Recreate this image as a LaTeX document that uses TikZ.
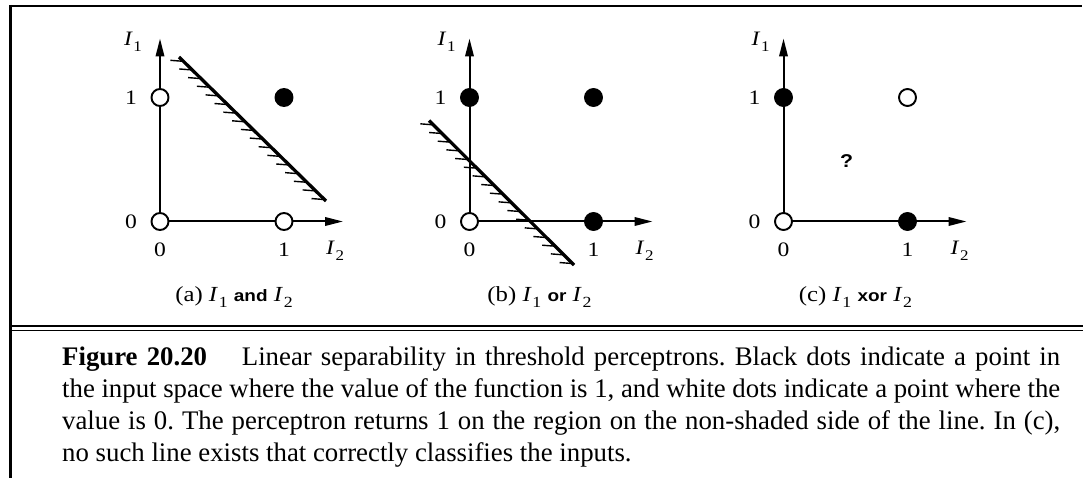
\documentclass[tikz,border=0pt]{standalone}
\usepackage{fontspec}
\setmainfont{Liberation Serif}
\newfontfamily\hsans{Liberation Sans}
\usepackage{graphicx}
\usetikzlibrary{arrows.meta,calc}
\newcommand\Iv[1]{\textit{I}\kern0.03em\raisebox{-0.28em}{\scalebox{0.72}{#1}}}
\newcommand\sw[1]{{\hsans\bfseries\fontsize{16.5}{16.5}\selectfont #1}}
\newcommand\hs[1]{\scalebox{1.15}[1]{#1}}
\frenchspacing
\tikzset{
  axis/.style={line width=2pt,-{Triangle[length=18pt,width=8.5pt]}},
  odot/.style={circle,draw,line width=1.9pt,fill=white,minimum size=17pt,inner sep=0pt},
  fdot/.style={circle,draw,line width=1.9pt,fill=black,minimum size=17pt,inner sep=0pt},
  sepline/.style={line width=3.3pt},
  hatch/.style={line width=1.4pt},
  lbl/.style={inner sep=0pt,font=\fontsize{20.5}{20.5}\selectfont},
  subcap/.style={inner sep=0pt,font=\fontsize{21.5}{21.5}\selectfont},
  captext/.style={inner sep=0pt,anchor=base west,font=\fontsize{26.8}{32}\selectfont},
  frame/.style={line width=2.3pt},
  thinframe/.style={line width=1.6pt},
}
\begin{document}
\begin{tikzpicture}[x=1pt,y=-1pt]
\useasboundingbox (0,0) rectangle (1083,478);
% frame
\coordinate (f-tl) at (9,6);
\coordinate (f-tr) at (1082,6);
\coordinate (f-lt) at (10.5,5);
\coordinate (f-lb) at (10.5,478);
\coordinate (f-d1l) at (10,326);
\coordinate (f-d1r) at (1083,326);
\coordinate (f-d2l) at (10,330.5);
\coordinate (f-d2r) at (1083,330.5);
\draw[frame] (f-tl) -- (f-tr);
\draw[frame] (f-lt) -- (f-lb);
\draw[frame] (f-d1l) -- (f-d1r);
\draw[thinframe] (f-d2l) -- (f-d2r);

% panel (a)
\begin{scope}[shift={(160,221.5)}]
  \coordinate (a-o) at (0,0);
  \coordinate (a-yt) at (0,-183);
  \coordinate (a-xt) at (183,0);
  \draw[axis] (a-o) -- (a-yt);
  \draw[axis] (a-o) -- (a-xt);
  \coordinate (a-l1) at (19,-164.5);
  \coordinate (a-l2) at (166,-20.5);
  \draw[sepline] (a-l1) -- (a-l2);
  \foreach \t in {0.03,0.09,...,0.99}
    \draw[hatch] ($(a-l1)!\t!(a-l2)$) -- ++(-13,-1);
  \node[odot] (a-p00) at (0,0) {};
  \node[odot] (a-p10) at (124,0) {};
  \node[odot] (a-p01) at (0,-124) {};
  \node[fdot] (a-p11) at (124,-124) {};
  \node[lbl] (a-i1) at (-27,-179.5) {\hs{\Iv{1}}};
  \node[lbl] (a-y1) at (-29,-124) {\hs{1}};
  \node[lbl] (a-y0) at (-29,0) {\hs{0}};
  \node[lbl] (a-x0) at (0,28) {\hs{0}};
  \node[lbl] (a-x1) at (124,28) {\hs{1}};
  \node[lbl] (a-i2) at (175,29.5) {\hs{\Iv{2}}};
  \node[subcap] (a-cap) at (74,75.5) {\hs{(a) \Iv{1} \sw{and} \Iv{2}}};
\end{scope}

% panel (b)
\begin{scope}[shift={(469.5,221.5)}]
  \coordinate (b-o) at (0,0);
  \coordinate (b-yt) at (0,-183);
  \coordinate (b-xt) at (183,0);
  \draw[axis] (b-o) -- (b-yt);
  \draw[axis] (b-o) -- (b-xt);
  \coordinate (b-l1) at (-40.5,-101);
  \coordinate (b-l2) at (104.5,43.5);
  \draw[sepline] (b-l1) -- (b-l2);
  \foreach \t in {0.03,0.09,...,0.99}
    \draw[hatch] ($(b-l1)!\t!(b-l2)$) -- ++(-13,-1);
  \node[odot] (b-p00) at (0,0) {};
  \node[fdot] (b-p10) at (124,0) {};
  \node[fdot] (b-p01) at (0,-124) {};
  \node[fdot] (b-p11) at (124,-124) {};
  \node[lbl] (b-i1) at (-23,-180) {\hs{\Iv{1}}};
  \node[lbl] (b-y1) at (-29,-124) {\hs{1}};
  \node[lbl] (b-y0) at (-29,0) {\hs{0}};
  \node[lbl] (b-x0) at (0,28) {\hs{0}};
  \node[lbl] (b-x1) at (124,28) {\hs{1}};
  \node[lbl] (b-i2) at (175,29.5) {\hs{\Iv{2}}};
  \node[subcap] (b-cap) at (70,75.5) {\hs{(b) \Iv{1} \sw{or} \Iv{2}}};
\end{scope}

% panel (c)
\begin{scope}[shift={(783.5,221.5)}]
  \coordinate (c-o) at (0,0);
  \coordinate (c-yt) at (0,-183);
  \coordinate (c-xt) at (183,0);
  \draw[axis] (c-o) -- (c-yt);
  \draw[axis] (c-o) -- (c-xt);
  \node[odot] (c-p00) at (0,0) {};
  \node[fdot] (c-p10) at (124,0) {};
  \node[fdot] (c-p01) at (0,-124) {};
  \node[odot] (c-p11) at (124,-124) {};
  \node[inner sep=0pt,font=\hsans\bfseries\fontsize{18.5}{18.5}\selectfont] (c-q) at (63,-60) {\hs{?}};
  \node[lbl] (c-i1) at (-23,-180) {\hs{\Iv{1}}};
  \node[lbl] (c-y1) at (-29,-124) {\hs{1}};
  \node[lbl] (c-y0) at (-29,0) {\hs{0}};
  \node[lbl] (c-x0) at (0,28) {\hs{0}};
  \node[lbl] (c-x1) at (124,28) {\hs{1}};
  \node[lbl] (c-i2) at (176,29.5) {\hs{\Iv{2}}};
  \node[subcap] (c-cap) at (72,75.5) {\hs{(c) \Iv{1} \sw{xor} \Iv{2}}};
\end{scope}

% caption
\node[captext] (cap1) at (62,365) {\makebox[998pt][s]{\textbf{Figure 20.20}\hspace{1.3em}Linear separability in threshold perceptrons. Black dots indicate a point in}};
\node[captext] (cap2) at (62,397) {\makebox[998pt][s]{the input space where the value of the function is 1, and white dots indicate a point where the}};
\node[captext] (cap3) at (62,429) {\makebox[998pt][s]{value is 0. The perceptron returns 1 on the region on the non-shaded side of the line. In (c),}};
\node[captext] (cap4) at (62,461) {no such line exists that correctly classifies the inputs.};
\end{tikzpicture}
\end{document}
